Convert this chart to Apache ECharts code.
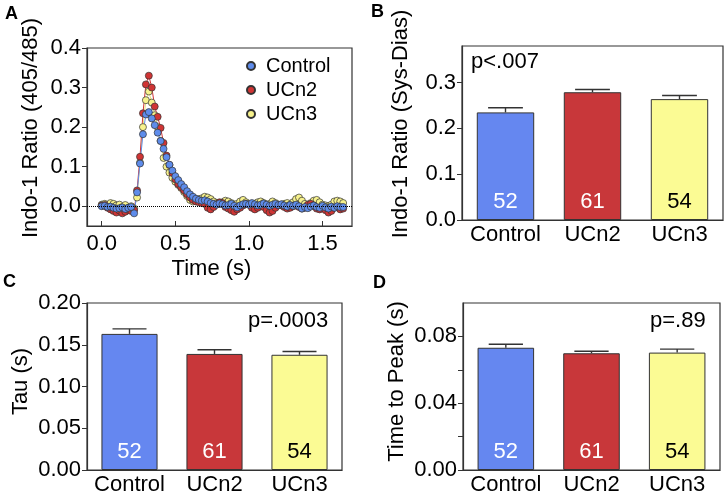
<!DOCTYPE html>
<html><head><meta charset="utf-8">
<script src="https://cdn.jsdelivr.net/npm/echarts@6/dist/echarts.min.js"></script>
<style>html,body{margin:0;padding:0;background:#fff}#c{width:726px;height:496px}</style>
</head><body><div id="c"></div>
<script>
// ---- Panel A: transient data ----
const time = [0.00,0.02,0.04,0.06,0.08,0.10,0.12,0.14,0.16,0.18,0.20,0.22,0.24,0.26,0.28,0.30,0.32,0.34,0.36,0.38,0.40,0.42,0.44,0.46,0.48,0.50,0.52,0.54,0.56,0.58,0.60,0.62,0.64,0.66,0.68,0.70,0.72,0.74,0.76,0.78,0.80,0.82,0.84,0.86,0.88,0.90,0.92,0.94,0.96,0.98,1.00,1.02,1.04,1.06,1.08,1.10,1.12,1.14,1.16,1.18,1.20,1.22,1.24,1.26,1.28,1.30,1.32,1.34,1.36,1.38,1.40,1.42,1.44,1.46,1.48,1.50,1.52,1.54,1.56,1.58,1.60,1.62,1.64];
const control = [0.000,0.001,-0.002,-0.001,-0.004,-0.006,-0.005,-0.003,-0.007,-0.004,-0.002,-0.018,0.035,0.108,0.182,0.232,0.238,0.222,0.205,0.186,0.165,0.145,0.124,0.105,0.090,0.076,0.066,0.056,0.048,0.038,0.030,0.024,0.019,0.016,0.014,0.015,0.012,0.008,0.006,0.004,0.007,0.005,0.002,0.003,0.006,0.001,-0.003,0.002,0.005,0.006,0.004,0.008,0.005,0.002,0.004,0.007,0.004,0.001,0.004,0.006,0.003,0.005,0.002,-0.001,0.003,0.001,0.004,0.000,-0.006,-0.002,-0.005,-0.001,0.002,-0.002,-0.004,0.001,-0.003,-0.006,-0.001,-0.004,0.000,-0.002,-0.002];
const ucn2 = [0.002,0.003,-0.004,-0.008,-0.012,-0.016,-0.011,-0.018,-0.014,-0.009,-0.012,-0.010,0.040,0.125,0.235,0.308,0.330,0.300,0.252,0.226,0.198,0.160,0.128,0.104,0.084,0.068,0.056,0.048,0.040,0.030,0.022,0.016,0.012,0.010,0.008,0.006,-0.004,-0.008,-0.002,0.004,0.010,0.008,-0.002,-0.006,-0.010,-0.014,-0.008,-0.004,0.002,0.006,0.004,-0.004,-0.008,-0.004,0.002,-0.002,-0.010,-0.016,-0.012,-0.004,0.002,0.004,-0.002,-0.006,-0.004,0.000,0.002,-0.002,-0.006,-0.004,0.004,0.006,0.002,-0.006,-0.008,-0.004,-0.010,-0.016,-0.012,-0.004,-0.002,-0.008,-0.006];
const ucn3 = [0.004,0.006,0.003,0.008,0.006,0.002,0.004,-0.002,0.003,-0.004,0.000,-0.006,0.022,0.110,0.200,0.268,0.290,0.262,0.230,0.200,0.165,0.122,0.100,0.085,0.072,0.062,0.054,0.046,0.036,0.026,0.016,0.012,0.014,0.018,0.020,0.024,0.022,0.018,0.012,0.008,0.006,0.010,0.014,0.012,0.008,0.004,0.006,0.012,0.016,0.010,0.004,0.002,0.006,0.010,0.012,0.008,0.002,0.006,0.012,0.008,0.004,0.002,0.006,0.008,0.004,0.010,0.018,0.022,0.014,0.006,0.002,0.008,0.014,0.016,0.010,0.004,0.002,0.000,0.004,0.012,0.014,0.012,0.008];
const timeTicks = [0, 0.5, 1.0, 1.5];
const ratioTicks = [0, 0.1, 0.2, 0.3, 0.4];

// ---- Bar panels ----
const groups = ['Control', 'UCn2', 'UCn3'];
const nCells = [52, 61, 54];
const ampMean = [0.235, 0.279, 0.264];
const ampSem = [0.010, 0.006, 0.008];
const ampTicks = [0, 0.1, 0.2, 0.3];
const tauMean = [0.163, 0.139, 0.138];
const tauSem = [0.006, 0.005, 0.004];
const tauTicks = [0, 0.05, 0.10, 0.15, 0.20];
const ttpMean = [0.0732, 0.0699, 0.0703];
const ttpSem = [0.0021, 0.0012, 0.0021];
const ttpTicks = [0, 0.02, 0.04, 0.06, 0.08];
const ttpLabels = [0, 0.04, 0.08];

const FONT = "'Liberation Sans', Arial, sans-serif";
const blue = '#6587F0', red = '#C8373A', yellow = '#FBFB94';
const barColors = [blue, red, yellow];
const nColors = ['#fff', '#fff', '#000'];
const AX = '#333';

function valueYAxis(gridIndex, min, max, ticks, labelTicks, digits, name, nameGap, namePad) {
  return {
    type: 'value', gridIndex, min, max,
    axisLine: { show: true, onZero: false, lineStyle: { color: AX, width: 1.2 } },
    axisTick: { show: true, inside: false, length: 5, customValues: ticks, lineStyle: { color: AX } },
    axisLabel: { customValues: labelTicks, margin: 6, fontSize: 22, color: '#000', fontFamily: FONT,
                 formatter: v => Number(v).toFixed(digits) },
    splitLine: { show: false },
    name, nameLocation: 'middle', nameGap,
    nameTextStyle: { fontSize: 22, color: '#000', fontFamily: FONT, padding: namePad }
  };
}
function catXAxis(gridIndex) {
  return {
    type: 'category', gridIndex, data: groups,
    axisLine: { show: true, onZero: false, lineStyle: { color: AX, width: 1.2 } },
    axisTick: { show: false },
    axisLabel: { interval: 0, margin: 4, fontSize: 22, color: '#000', fontFamily: FONT }
  };
}
function barSeries(idx, means) {
  return {
    type: 'bar', xAxisIndex: idx, yAxisIndex: idx, barWidth: '66%', z: 2,
    data: means.map((m, i) => ({ value: m, itemStyle: { color: barColors[i] }, label: { color: nColors[i] } })),
    itemStyle: { borderColor: '#333', borderWidth: 1 },
    label: { show: true, position: 'insideBottom', distance: 7, fontSize: 22, fontFamily: FONT,
             formatter: p => String(nCells[p.dataIndex]) }
  };
}
function errSeries(idx, means, sems) {
  return {
    type: 'custom', xAxisIndex: idx, yAxisIndex: idx, z: 1,
    data: means.map((m, i) => [i, m, m + sems[i]]),
    encode: { x: 0, y: [1, 2] },
    renderItem: (params, api) => {
      const p0 = api.coord([api.value(0), api.value(1)]);
      const p1 = api.coord([api.value(0), api.value(2)]);
      const half = api.size([1, 0])[0] * 0.2;
      const st = { stroke: '#333', lineWidth: 1.4 };
      return { type: 'group', children: [
        { type: 'line', shape: { x1: p0[0], y1: p0[1], x2: p1[0], y2: p1[1] }, style: st },
        { type: 'line', shape: { x1: p1[0] - half, y1: p1[1], x2: p1[0] + half, y2: p1[1] }, style: st }
      ]};
    }
  };
}
function traceSeries(name, vals, color, lineColor) {
  return {
    type: 'line', name, xAxisIndex: 0, yAxisIndex: 0,
    data: time.map((t, i) => [t, vals[i]]),
    symbol: 'circle', symbolSize: 7, showAllSymbol: true,
    itemStyle: { color, borderColor: '#333', borderWidth: 0.7 },
    lineStyle: { color: lineColor, width: 1 },
    animation: false
  };
}

const gridBox = { show: true, borderColor: AX, borderWidth: 1.2, backgroundColor: 'transparent' };
const option = {
  animation: false,
  textStyle: { fontFamily: FONT },
  grid: [
    Object.assign({ left: 87, top: 48, width: 265, height: 178 }, gridBox),
    Object.assign({ left: 462, top: 46, width: 261, height: 174 }, gridBox),
    Object.assign({ left: 87, top: 303, width: 255, height: 170 }, gridBox),
    Object.assign({ left: 463, top: 303, width: 257, height: 170 }, gridBox)
  ],
  legend: {
    data: ['Control', 'UCn2', 'UCn3'], orient: 'vertical', left: 241, top: 51,
    icon: 'circle', itemWidth: 20, itemHeight: 8, itemGap: 4,
    textStyle: { fontSize: 20, color: '#000', fontFamily: FONT }
  },
  xAxis: [
    {
      type: 'value', gridIndex: 0, min: -0.1, max: 1.7,
      axisLine: { show: true, onZero: false, lineStyle: { color: AX, width: 1.2 } },
      axisTick: { show: true, inside: true, length: 5, customValues: timeTicks, lineStyle: { color: AX } },
      axisLabel: { customValues: timeTicks, margin: 7, fontSize: 22, color: '#000', fontFamily: FONT,
                   formatter: v => Number(v).toFixed(1) },
      splitLine: { show: false },
      name: 'Time (s)', nameLocation: 'middle', nameGap: 32,
      nameTextStyle: { fontSize: 22, color: '#000', fontFamily: FONT, padding: [0, 16, 0, 0] }
    },
    catXAxis(1), catXAxis(2), catXAxis(3)
  ],
  yAxis: [
    valueYAxis(0, -0.05, 0.4, ratioTicks, ratioTicks, 1, 'Indo-1 Ratio (405/485)', 45, [0, 0, 0, 18]),
    valueYAxis(1, 0, 0.38, ampTicks, ampTicks, 1, 'Indo-1 Ratio (Sys-Dias)', 50, [0, 0, 0, 18]),
    valueYAxis(2, 0, 0.2, tauTicks, tauTicks, 2, 'Tau (s)', 55, [0, 0, 0, 10]),
    valueYAxis(3, 0, 0.1, ttpTicks, ttpLabels, 2, 'Time to Peak (s)', 55, [0, 0, 0, 10])
  ],
  series: [
    traceSeries('UCn3', ucn3, '#F7F28C', '#E8E27A'),
    traceSeries('UCn2', ucn2, '#D03434', '#D03434'),
    Object.assign(traceSeries('Control', control, '#5E8CEB', '#5E8CEB'), {
      markLine: { silent: true, symbol: 'none', label: { show: false },
                  lineStyle: { type: 'dotted', color: '#000', width: 1 }, data: [{ yAxis: 0 }] }
    }),
    barSeries(1, ampMean), errSeries(1, ampMean, ampSem),
    barSeries(2, tauMean), errSeries(2, tauMean, tauSem),
    barSeries(3, ttpMean), errSeries(3, ttpMean, ttpSem)
  ],
  graphic: [
    { type: 'text', left: 5, top: 5, style: { text: 'A', font: "bold 18px 'Liberation Sans', Arial", fill: '#000' } },
    { type: 'text', left: 371, top: 3, style: { text: 'B', font: "bold 18px 'Liberation Sans', Arial", fill: '#000' } },
    { type: 'text', left: 3, top: 273, style: { text: 'C', font: "bold 18px 'Liberation Sans', Arial", fill: '#000' } },
    { type: 'text', left: 373, top: 274, style: { text: 'D', font: "bold 18px 'Liberation Sans', Arial", fill: '#000' } },
    { type: 'text', left: 471, top: 51, style: { text: 'p<.007', font: "22px 'Liberation Sans', Arial", fill: '#000' } },
    { type: 'text', left: 248, top: 310, style: { text: 'p=.0003', font: "22px 'Liberation Sans', Arial", fill: '#000' } },
    { type: 'text', left: 650, top: 310, style: { text: 'p=.89', font: "22px 'Liberation Sans', Arial", fill: '#000' } }
  ]
};
const chart = echarts.init(document.getElementById('c'), null, { renderer: 'canvas' });
chart.setOption(option);
</script></body></html>
